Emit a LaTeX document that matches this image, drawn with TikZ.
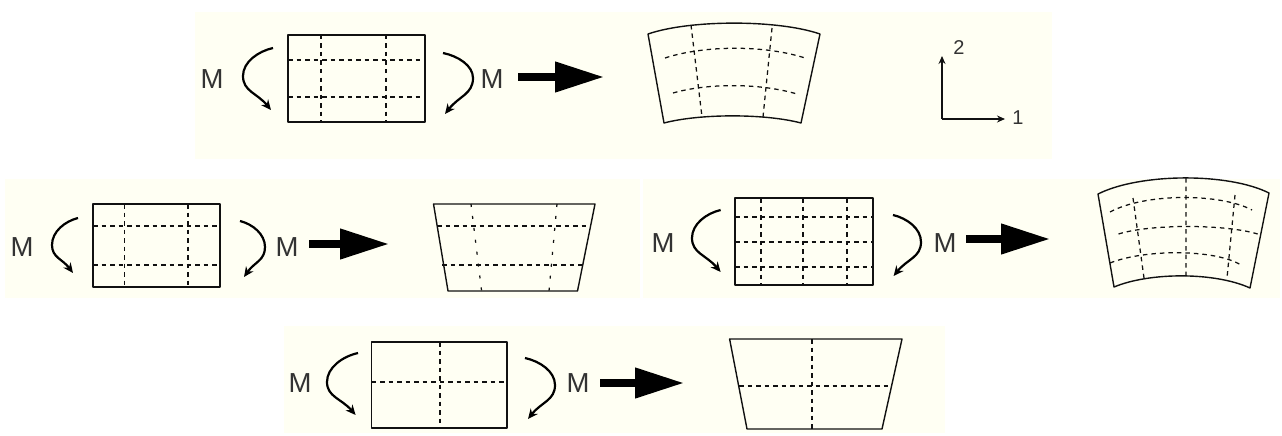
\documentclass[tikz,border=0pt]{standalone}
\usepackage{fontspec}
\setmainfont{Liberation Sans}
\usetikzlibrary{arrows.meta}
\definecolor{panelcream}{HTML}{FFFFF3}
\definecolor{inkdark}{HTML}{111111}
\tikzset{
  panel/.style={fill=panelcream,draw=none},
  solidedge/.style={draw=inkdark,line width=1.4pt,line join=round},
  dashedgrid/.style={draw=inkdark,line width=1.25pt,dash pattern=on 4.5pt off 4pt},
  moment/.style={draw=black,line width=2.2pt,-{Stealth[length=10pt,width=9pt]}},
  bigarrow/.style={draw=black,line width=7.5pt,-{Triangle[length=49pt,width=29pt]}},
  axisline/.style={draw=inkdark,line width=1.2pt,-{Stealth[length=8pt,width=7pt]}},
  mlabel/.style={font=\fontsize{27.5}{27.5}\selectfont,text=black!80,inner sep=0pt},
  numlabel/.style={font=\fontsize{20}{20}\selectfont,text=black!80,inner sep=0pt},
}
\newcommand{\Moment}[6]{\draw[moment] (#1,#2) .. controls ({#1+0.5*(#3-#1)},{#2+0.12*(#4-#2)}) and (#3,{#4+0.5*(#2-#4)}) .. (#3,#4) .. controls (#3,{#4+0.45*(#6-#4)}) and ({#5+0.5*(#3-#5)},{#6-0.5*(#6-#4)}) .. (#5,#6);}
\begin{document}
\begin{tikzpicture}[x=1pt,y=-1pt]
\useasboundingbox (0,0) rectangle (1282,436);
% panels
\fill[panel] (195,12) rectangle (1052,159);
\fill[panel] (5,179) rectangle (640,298);
\fill[panel] (643,179) rectangle (1280,298);
\fill[panel] (284,326) rectangle (945,433);

% ---- top group
\draw[solidedge] (288,35) rectangle (425,122);
\draw[dashedgrid] (321,35) -- (321,122) (386,35) -- (386,122);
\draw[dashedgrid] (288,60) -- (425,60) (288,97) -- (425,97);
\node[mlabel] (m1l) at (212,79) {M};
\node[mlabel] (m1r) at (492,79) {M};
\Moment{273}{48}{243}{76}{271}{110}
\Moment{443}{53}{473}{78}{445}{114}
\coordinate (a1s) at (518,77); \coordinate (a1e) at (604,77);
\draw[bigarrow] (a1s) -- (a1e);
\draw[solidedge] (648,34) .. controls (690,19.5) and (778,19.5) .. (820,34) -- (801,123) .. controls (765,113.5) and (700,113.5) .. (664,123) -- cycle;
\draw[dashedgrid] (665,58) .. controls (705,45) and (765,45) .. (805,58);
\draw[dashedgrid] (673,93) .. controls (708,83) and (760,83) .. (797,94);
\draw[dashedgrid] (691,25) -- (702,117) (772,28) -- (763,117);
\coordinate (ax0) at (942,119); \coordinate (ax2) at (942,56); \coordinate (ax1) at (1005,119);
\draw[axisline] (ax0) -- (ax2);
\draw[axisline] (ax0) -- (ax1);
\node[numlabel] (n2) at (959,48) {2};
\node[numlabel] (n1) at (1018,118) {1};

% ---- left group
\draw[solidedge] (93,204) rectangle (220,287);
\draw[dashedgrid] (124.5,204) -- (124.5,287) (188,204) -- (188,287);
\draw[dashedgrid] (93,226) -- (220,226) (93,265) -- (220,265);
\node[mlabel] (m2l) at (22,247) {M};
\node[mlabel] (m2r) at (287,247) {M};
\Moment{78}{218}{52}{245}{73}{273}
\Moment{240}{221}{265}{247}{244}{277}
\coordinate (a2s) at (309,244); \coordinate (a2e) at (389,244);
\draw[bigarrow] (a2s) -- (a2e);
\draw[solidedge] (448,291) -- (433.5,204) -- (595,204) -- (577.5,291) -- cycle;
\draw[dashedgrid] (437,226) -- (591,226) (442,265) -- (583,265);
\draw[dashedgrid,dash pattern=on 3pt off 9pt] (471,204) -- (481.6,291) (557,204) -- (549,291);

% ---- right group
\draw[solidedge] (735,198) rectangle (873,285);
\draw[dashedgrid] (761,198) -- (761,285) (803,198) -- (803,285) (847,198) -- (847,285);
\draw[dashedgrid] (735,217) -- (873,217) (735,242) -- (873,242) (735,267) -- (873,267);
\node[mlabel] (m3l) at (663,243) {M};
\node[mlabel] (m3r) at (945,243) {M};
\Moment{720.6}{210}{692}{238}{720.6}{272}
\Moment{893}{215}{921}{242}{893.6}{276}
\coordinate (a3s) at (966,239); \coordinate (a3e) at (1050,239);
\draw[bigarrow] (a3s) -- (a3e);
\draw[solidedge] (1098,194) .. controls (1140,173) and (1228,172.5) .. (1269,193) -- (1250,288) .. controls (1215,272) and (1150,272) .. (1114,287) -- cycle;
\draw[dashedgrid] (1110,212) .. controls (1145,193) and (1220,193) .. (1252,210);
\draw[dashedgrid] (1118.5,234) .. controls (1150,224) and (1225,224) .. (1257.6,234);
\draw[dashedgrid] (1110,263) .. controls (1145,249) and (1215,249) .. (1241,265);
\draw[dashedgrid] (1133,198) -- (1144,278) (1186,178) -- (1186,276) (1235,195) -- (1227,278);

% ---- bottom group
\draw[solidedge] (371.5,342) rectangle (507,428);
\draw[dashedgrid] (440,342) -- (440,428);
\draw[dashedgrid] (371.5,382) -- (507,382);
\node[mlabel] (m4l) at (300,383) {M};
\node[mlabel] (m4r) at (578,383) {M};
\Moment{358}{353}{327}{382}{355.6}{415}
\Moment{525}{358}{555}{385}{528}{419}
\coordinate (a4s) at (600,383); \coordinate (a4e) at (684,383);
\draw[bigarrow] (a4s) -- (a4e);
\draw[solidedge] (747,429) -- (729.6,339) -- (902,339) -- (882,429) -- cycle;
\draw[dashedgrid] (739,386) -- (891,386);
\draw[dashedgrid] (812,339) -- (812,429);
\end{tikzpicture}
\end{document}
